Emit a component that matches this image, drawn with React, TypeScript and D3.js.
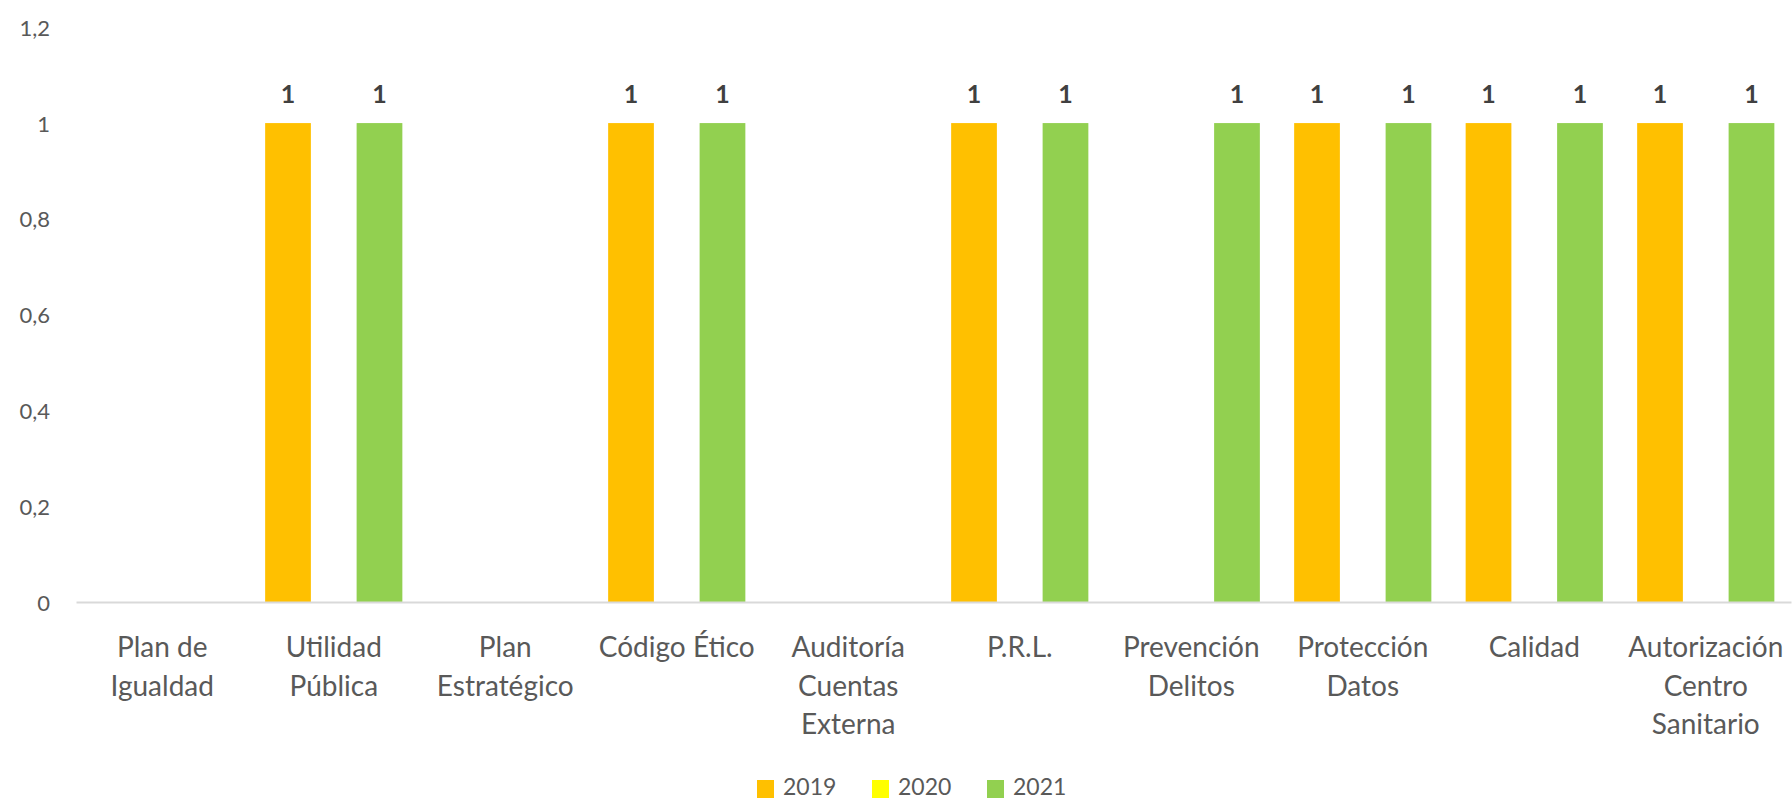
import React from "react";
import * as d3 from "d3";

const categories: string[][] = [
  ["Plan de", "Igualdad"],
  ["Utilidad", "Pública"],
  ["Plan", "Estratégico"],
  ["Código Ético"],
  ["Auditoría", "Cuentas", "Externa"],
  ["P.R.L."],
  ["Prevención", "Delitos"],
  ["Protección", "Datos"],
  ["Calidad"],
  ["Autorización", "Centro", "Sanitario"],
];
const seriesNames = ["2019", "2020", "2021"];
const values2019: (number | null)[] = [null, 1, null, 1, null, 1, null, 1, 1, 1];
const values2020: (number | null)[] = [null, null, null, null, null, null, null, null, null, null];
const values2021: (number | null)[] = [null, 1, null, 1, null, 1, 1, 1, 1, 1];
const yTicks = [0, 0.2, 0.4, 0.6, 0.8, 1, 1.2];
const colors = ["#FFC000", "#FFFF00", "#92D050"];

const W = 1792;
const H = 801;
const FONT = "Lato, 'Open Sans', sans-serif";

export default function App() {
  const series = [values2019, values2020, values2021];
  const x0 = d3
    .scaleBand<number>()
    .domain(categories.map((_, i) => i))
    .range([76.5, 1791.5])
    .paddingInner(0)
    .paddingOuter(0);
  const bw = x0.bandwidth();
  const barW = bw / 3.75; // gap width 75% of a bar
  const x1 = d3
    .scaleBand<number>()
    .domain([0, 1, 2])
    .range([bw * (0.375 / 3.75), bw * (0.375 / 3.75) + barW * 3])
    .padding(0);
  const y = d3.scaleLinear().domain([0, 1.2]).range([602, 27.3]);
  const fmt = (v: number) => (v === 0 ? "0" : String(v).replace(".", ","));

  const legendItems = seriesNames.map((n, i) => ({ n, c: colors[i] }));
  const legendX = [757, 872, 987];

  return (
    <svg
      width={W}
      height={H}
      style={{ position: "absolute", left: 0, top: 0, background: "#fff" }}
      fontFamily={FONT}
    >
      <rect x={0} y={0} width={W} height={H} fill="#ffffff" />
      {yTicks.map((t) => (
        <text
          key={t}
          x={50}
          y={y(t)}
          textAnchor="end"
          dominantBaseline="central"
          fontSize={22}
          fill="#595959"
        >
          {fmt(t)}
        </text>
      ))}
      {categories.map((_, ci) => (
        <g key={ci} transform={`translate(${x0(ci)},0)`}>
          {series.map((s, si) => {
            const v = s[ci];
            if (v == null) return null;
            const bx = x1(si)!;
            return (
              <g key={si}>
                <rect
                  x={bx}
                  y={y(v)}
                  width={x1.bandwidth()}
                  height={y(0) - y(v)}
                  fill={colors[si]}
                />
                <text
                  x={bx + x1.bandwidth() / 2}
                  y={y(v) - 30}
                  textAnchor="middle"
                  dominantBaseline="central"
                  fontSize={25}
                  fontWeight={700}
                  fill="#404040"
                >
                  {fmt(v)}
                </text>
              </g>
            );
          })}
        </g>
      ))}
      <line x1={76.5} x2={1791.5} y1={y(0) + 0.5} y2={y(0) + 0.5} stroke="#d9d9d9" strokeWidth={2} />
      {categories.map((lines, ci) => (
        <text
          key={ci}
          x={x0(ci)! + bw / 2}
          textAnchor="middle"
          fontSize={28}
          fill="#595959"
        >
          {lines.map((l, li) => (
            <tspan key={li} x={x0(ci)! + bw / 2} y={645.7 + li * 38.8} dominantBaseline="central">
              {l}
            </tspan>
          ))}
        </text>
      ))}
      {legendItems.map((it, i) => (
        <g key={it.n} transform={`translate(${legendX[i]},0)`}>
          <rect x={0} y={780} width={17} height={18} fill={it.c} />
          <text x={26} y={786} dominantBaseline="central" fontSize={23} fill="#595959">
            {it.n}
          </text>
        </g>
      ))}
    </svg>
  );
}
